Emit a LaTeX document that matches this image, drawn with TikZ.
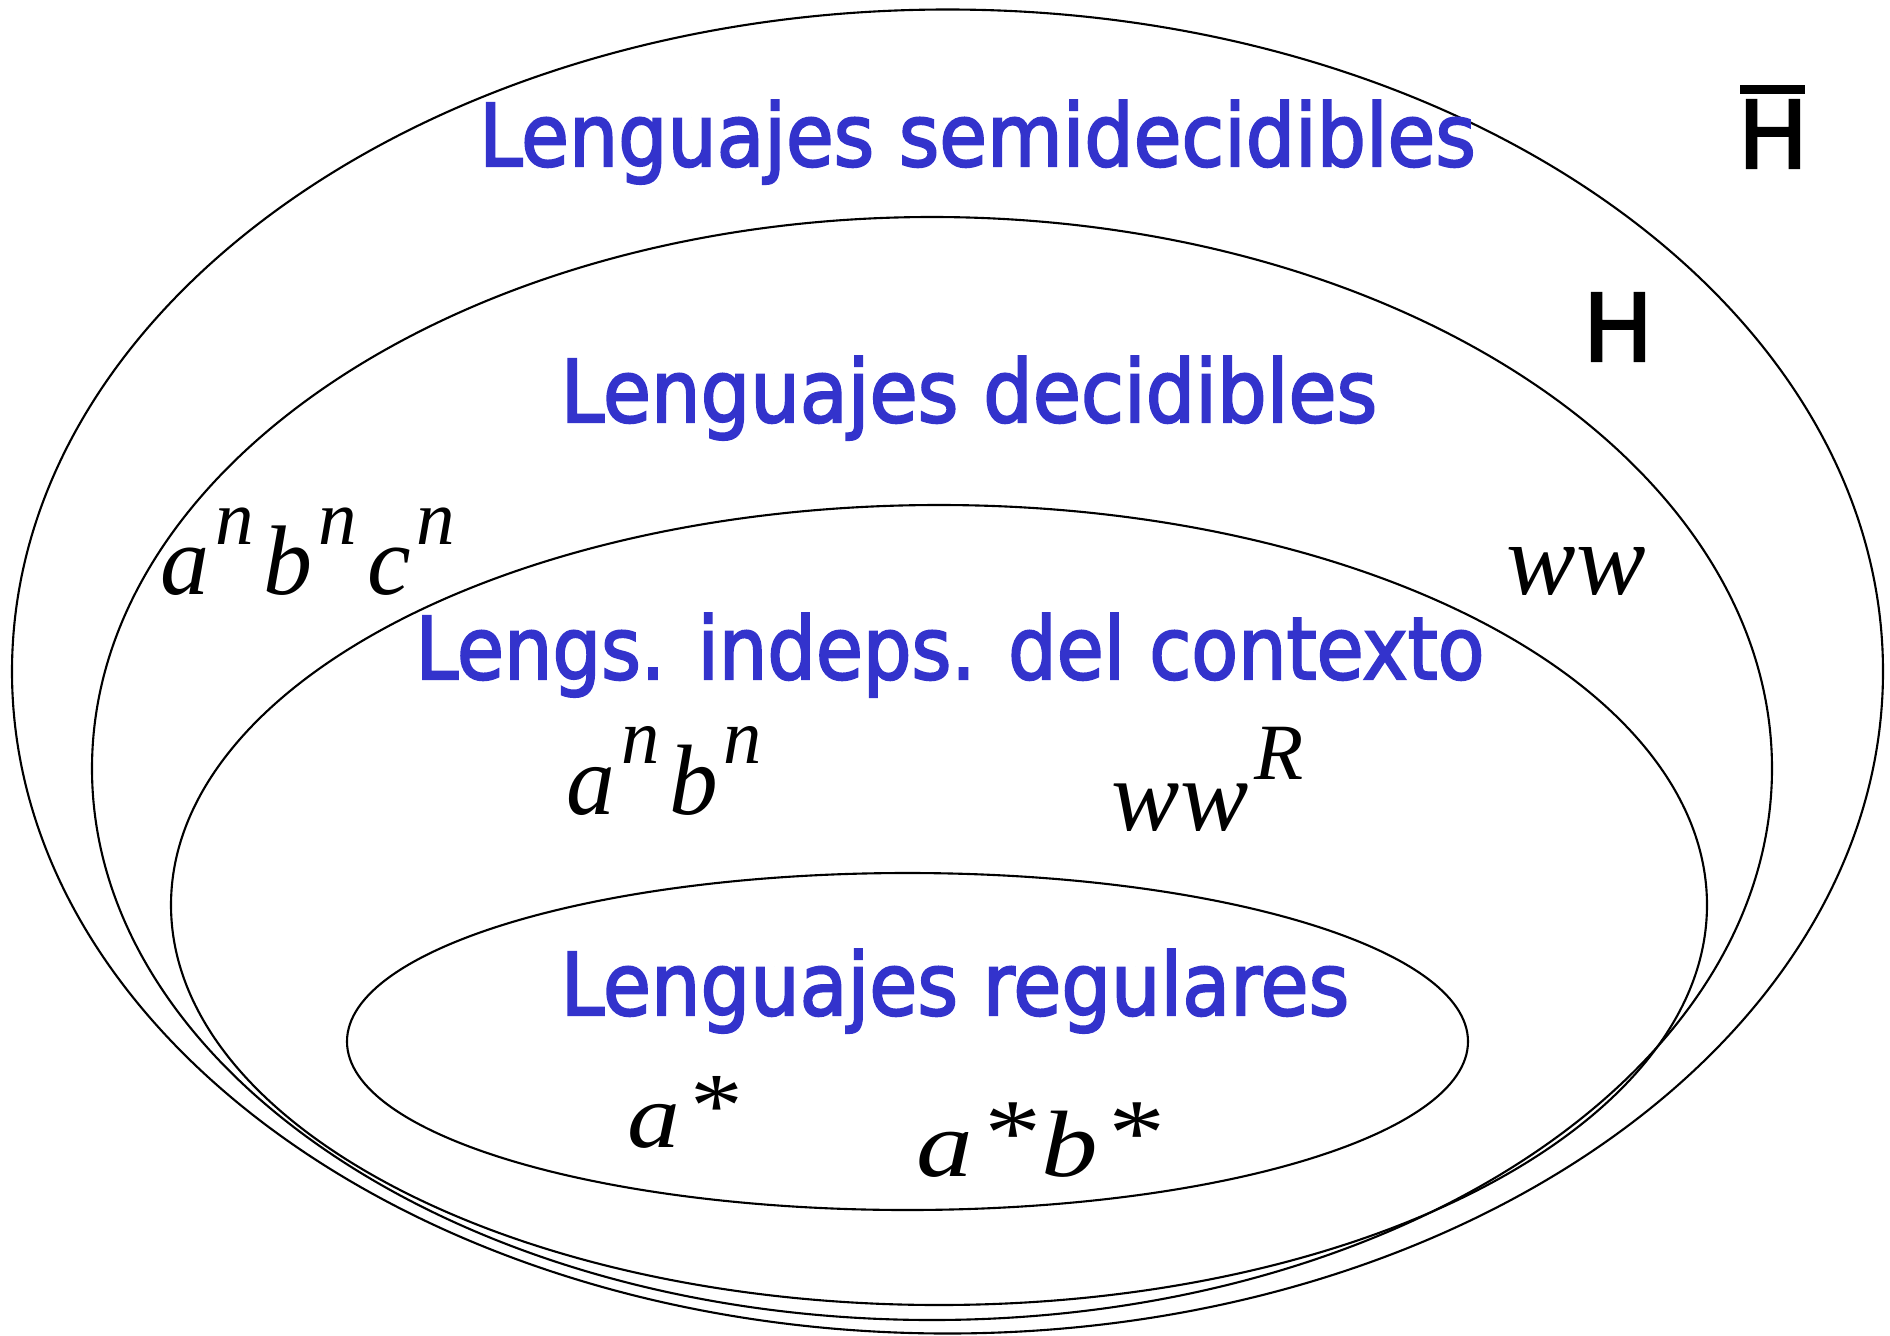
\documentclass[tikz,border=0pt]{standalone}
\usepackage{fontspec}
\usepackage{graphicx}
\newfontfamily\comicf[FakeBold=2.5]{DejaVu Sans}
\newfontfamily\mathf{Liberation Serif}
\definecolor{lblue}{HTML}{3333CC}
\newcommand\sxp[1]{\kern0.06em\raisebox{0.5em}{\fontsize{22}{26}\selectfont #1}\kern0.1em}
\newcommand\kstar{\kern0.05em\raisebox{0.12em}{*}\kern0.05em}
\newcommand\fitw[2]{\resizebox{#1}{\height}{#2}}
\newcommand\fitwh[3]{\resizebox{#1}{#2}{#3}}
\tikzset{
  ell/.style={draw=black, line width=0.6pt},
  title/.style={text=lblue, inner sep=0pt, anchor=base, font=\comicf\fontsize{24.6}{30}\selectfont},
  mlbl/.style={inner sep=0pt, anchor=base west, font=\mathf\itshape\fontsize{28}{34}\selectfont},
  hlbl/.style={inner sep=0pt, anchor=base, font=\comicf\fontsize{26.5}{32}\selectfont},
}
\begin{document}
\begin{tikzpicture}[x=0.01cm, y=-0.01cm]
\useasboundingbox (0,0) rectangle (1890,1336);
% nested ellipses
\draw[ell] (947.5,671.5) ellipse [x radius=935.5, y radius=662];
\draw[ell] (932,768.5) ellipse [x radius=840, y radius=551.5];
\draw[ell] (939,905) ellipse [x radius=768, y radius=400];
\draw[ell] (907.5,1041.5) ellipse [x radius=560.5, y radius=168.5];
% titles
\node[title] (t1) at (977.5,166) {\fitw{9.96cm}{Lenguajes semidecidibles}};
\node[title] (t2) at (969,422) {\fitw{8.16cm}{Lenguajes decidibles}};
\node[title] (t3) at (950,679) {\fitw{10.68cm}{Lengs. indeps. del contexto}};
\node[title] (t4) at (955,1015) {\fitw{7.88cm}{Lenguajes regulares}};
% H labels
\node[hlbl] (hbar) at (1773,168) {H};
\fill (1740,85) rectangle (1805,94);
\node[hlbl] (h) at (1618,361) {H};
% languages
\node[mlbl] (m1) at (160,594) {\fitwh{3.04cm}{0.86cm}{a\sxp{n}b\sxp{n}c\sxp{n}}};
\node[mlbl] (m2) at (1506,594) {\fitwh{1.39cm}{0.47cm}{ww}};
\node[mlbl] (m3) at (566,814) {\fitwh{2.05cm}{0.87cm}{a\sxp{n}b\sxp{n}}};
\node[mlbl] (m4) at (1111,830) {\fitwh{2.02cm}{1.03cm}{ww\sxp{R}}};
\node[mlbl] (m5) at (627,1147) {\fitwh{1.16cm}{0.71cm}{a\kstar}};
\node[mlbl] (m6) at (916,1176) {\fitwh{2.49cm}{0.73cm}{a\kstar b\kstar}};
\end{tikzpicture}
\end{document}
